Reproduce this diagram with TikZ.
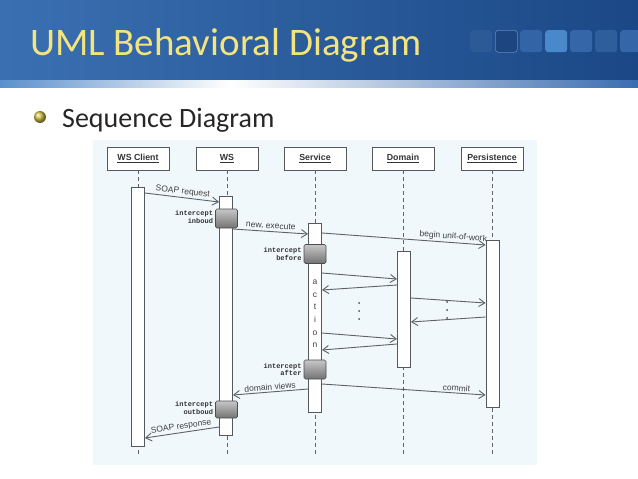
\documentclass[tikz,border=0pt]{standalone}
\usepackage{fontspec}
\setmainfont{Carlito}
\newfontfamily\dgfont{Liberation Sans}
\newfontfamily\dgmono{Liberation Mono}
\usetikzlibrary{arrows.meta,shadows}
\definecolor{barL}{HTML}{3A70B2}
\definecolor{barR}{HTML}{1B4786}
\definecolor{titleyellow}{HTML}{F4E47E}
\definecolor{panelbg}{HTML}{F0F8FB}
\definecolor{linegray}{HTML}{5E6266}
\definecolor{boxgray}{HTML}{55595E}
\definecolor{sqA}{HTML}{2C5A96}
\definecolor{sqB}{HTML}{1D4680}
\definecolor{sqBline}{HTML}{5C88C2}
\definecolor{sqC}{HTML}{3364A6}
\definecolor{sqD}{HTML}{4A88CC}
\definecolor{sqE}{HTML}{3466A8}
\definecolor{sqF}{HTML}{2E5E9C}
\definecolor{stripL}{HTML}{5A8FCC}
\definecolor{stripR}{HTML}{3A6CB0}
\definecolor{ballc}{HTML}{D2C040}
\begin{document}
\begin{tikzpicture}[x=1pt,y=-1pt,
  hdr/.style={draw=boxgray, fill=white, line width=0.7pt, minimum width=62pt, minimum height=23pt,
    inner sep=0pt, font=\dgfont\bfseries\fontsize{8.8}{10}\selectfont, text=black!80,
    drop shadow={opacity=0.25, shadow xshift=1pt, shadow yshift=-1pt}},
  act/.style={draw=boxgray, fill=white, line width=0.9pt, minimum width=13pt, inner sep=0pt, anchor=north},
  icpt/.style={draw=black!70, top color=black!22, bottom color=black!55, rounded corners=1.5pt,
    line width=0.6pt, minimum width=22pt, minimum height=19pt, inner sep=0pt},
  icptlbl/.style={font=\dgmono\bfseries\fontsize{7}{7.8}\selectfont, align=right, anchor=east,
    inner sep=0pt, text=black!80},
  life/.style={draw=linegray, line width=0.8pt, dash pattern=on 3.5pt off 3.5pt},
  msg/.style={draw=linegray, line width=0.9pt, -{Straight Barb[length=6pt,width=8pt]}},
  mlbl/.style={font=\dgfont\fontsize{8.5}{9}\selectfont, text=black!75, sloped, above, inner sep=1.5pt},
  sq/.style={rounded corners=3pt, minimum size=22pt, inner sep=0pt, anchor=north west}
]
\useasboundingbox (0,0) rectangle (638,479);
% title bar
\shade[left color=barL, right color=barR] (0,0) rectangle (638,80);
\shade[left color=stripL, right color=white] (0,80) rectangle (230,87);
\shade[left color=white, right color=stripR] (230,80) rectangle (638,87);
\node[anchor=base west, inner sep=0pt, text=titleyellow, font=\fontsize{39}{44}\selectfont] (title) at (30,55) {UML Behavioral Diagram};
\node[sq, fill=sqA] (s1) at (470,30) {};
\node[sq, fill=sqB, draw=sqBline, line width=0.6pt] (s2) at (495,30) {};
\node[sq, fill=sqC] (s3) at (520,30) {};
\node[sq, fill=sqD] (s4) at (545,30) {};
\node[sq, fill=sqE] (s5) at (570,30) {};
\node[sq, fill=sqF] (s6) at (595,30) {};
\node[sq, fill=sqE] (s7) at (620,30) {};
% bullet
\shade[ball color=ballc] (40,117) circle (6);
\node[anchor=base west, inner sep=0pt, font=\fontsize{28}{32}\selectfont, text=black!85] (sub) at (62,127) {Sequence Diagram};
% panel
\fill[panelbg] (93,140) rectangle (537,465);
% headers
\node[hdr] (hC) at (138,158.5) {\underline{WS Client}};
\node[hdr] (hW) at (227,158.5) {\underline{WS}};
\node[hdr] (hS) at (315,158.5) {\underline{Service}};
\node[hdr] (hD) at (403,158.5) {\underline{Domain}};
\node[hdr] (hP) at (492,158.5) {\underline{Persistence}};
% lifelines
\coordinate (eC) at (138,456);
\coordinate (eW) at (227,456);
\coordinate (eS) at (315,456);
\coordinate (eD) at (403,456);
\coordinate (eP) at (492,456);
\draw[life] (hC.south) -- (eC);
\draw[life] (hW.south) -- (eW);
\draw[life] (hS.south) -- (eS);
\draw[life] (hD.south) -- (eD);
\draw[life] (hP.south) -- (eP);
% activations
\node[act, minimum height=259pt] (aC) at (138,187) {};
\node[act, minimum height=239pt] (aW) at (226,196) {};
\node[act, minimum height=189pt] (aS) at (315,223) {};
\node[act, minimum height=116pt] (aD) at (404,251) {};
\node[act, minimum height=167pt] (aP) at (492.5,240) {};
% interceptors
\node[icpt] (iIn) at (226.5,218.5) {};
\node[icpt] (iBe) at (315,254) {};
\node[icpt] (iAf) at (315,369.5) {};
\node[icpt, minimum height=17pt] (iOut) at (226.5,409.5) {};
\node[icptlbl] (lIn) at ([xshift=-2pt,yshift=1.5pt]iIn.west) {intercept\\inboud};
\node[icptlbl] (lBe) at ([xshift=-2pt]iBe.west) {intercept\\before};
\node[icptlbl] (lAf) at ([xshift=-2pt]iAf.west) {intercept\\after};
\node[icptlbl] (lOut) at ([xshift=-2pt,yshift=1.5pt]iOut.west) {intercept\\outboud};
% action
\node[font=\dgfont\fontsize{8.5}{12.6}\selectfont, align=center, inner sep=0pt, text=black!75] (action) at (315,314) {a\\c\\t\\i\\o\\n};
% messages
\draw[msg] (aC.east |- 0,193) -- node[mlbl] {SOAP request} (aW.west |- 0,202);
\draw[msg] (aW.east |- 0,229) -- node[mlbl] {new, execute} (aS.west |- 0,234);
\draw[msg] (aS.east |- 0,233) -- node[mlbl, pos=0.8] {begin unit-of-work} (aP.west |- 0,245);
\draw[msg] (aS.east |- 0,273) -- (aD.west |- 0,279);
\draw[msg] (aD.west |- 0,285) -- (aS.east |- 0,290);
\draw[msg] (aD.east |- 0,298) -- (aP.west |- 0,303);
\draw[msg] (aP.west |- 0,317) -- (aD.east |- 0,322);
\draw[msg] (aS.east |- 0,333) -- (aD.west |- 0,339);
\draw[msg] (aD.west |- 0,344) -- (aS.east |- 0,350);
\draw[msg] (aS.east |- 0,384) -- node[mlbl, pos=0.82] {commit} (aP.west |- 0,395);
\draw[msg] (aS.west |- 0,389) -- node[mlbl] {domain views} (aW.east |- 0,395);
\draw[msg] (aW.west |- 0,427) -- node[mlbl] {SOAP response} (aC.east |- 0,438);
% ellipsis dots
\foreach \yy in {303,311,319} \fill[black!70] (359,\yy) circle (1);
\foreach \yy in {302,310,318} \fill[black!70] (447,\yy) circle (1);
\end{tikzpicture}
\end{document}
